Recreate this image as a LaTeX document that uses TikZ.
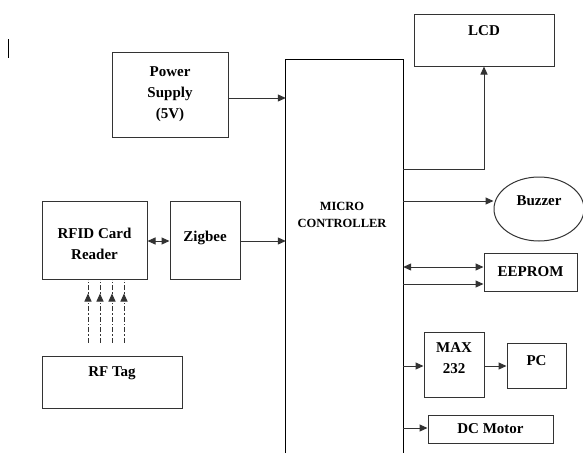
\documentclass[tikz,border=0pt]{standalone}
\usepackage{fontspec}
\setmainfont{Liberation Serif}
\usetikzlibrary{arrows.meta,shapes.geometric}
\begin{document}
\begin{tikzpicture}[x=1pt,y=-1pt,
  box/.style={draw=black!80,line width=1pt,inner sep=0pt,align=center,font=\bfseries\fontsize{15}{21}\selectfont},
  txt/.style={inner sep=0pt,align=center,font=\bfseries\fontsize{15}{21}\selectfont},
  conn/.style={line width=1pt,draw=black!80,-{Triangle[length=8pt,width=7pt]}},
  dconn/.style={line width=1pt,draw=black!80,{Triangle[length=8pt,width=7pt]}-{Triangle[length=8pt,width=7pt]}},
  rfarrow/.style={line width=1pt,draw=black!80,dash pattern=on 5pt off 2pt on 1.5pt off 2pt,-{Triangle[length=8pt,width=7pt]}}]
\useasboundingbox (0,0) rectangle (583,453);
\fill[white] (0,0) rectangle (583,453);
% cursor mark
\coordinate (c1) at (8,39);
\coordinate (c2) at (8,58);
\draw[line width=1pt] (c1) -- (c2);
% boxes
\node[box,minimum width=116pt,minimum height=85pt] (ps) at (170,94.5) {Power\\Supply\\(5V)};
\node[minimum width=117pt,minimum height=393pt,inner sep=0pt] (mc) at (344.5,256.5) {};
\draw[line width=1pt] (mc.south west) -- (mc.north west) -- (mc.north east) -- (mc.south east);
\node[txt,font=\bfseries\fontsize{12.5}{17}\selectfont] (mct) at (342,214.5) {MICRO\\CONTROLLER};
\node[box,minimum width=140pt,minimum height=52pt,label={[txt,yshift=9pt]center:LCD}] (lcd) at (484,40) {};
\node[box,ellipse,minimum width=90pt,minimum height=64pt,label={[txt,yshift=8pt]center:Buzzer}] (bz) at (539,209) {};
\node[box,minimum width=93pt,minimum height=38pt] (ee) at (530.5,272) {EEPROM};
\node[box,minimum width=60pt,minimum height=65pt,label={[txt,yshift=6pt]center:MAX\\232}] (max) at (454,364.5) {};
\node[box,minimum width=59pt,minimum height=45pt,label={[txt,yshift=5pt]center:PC}] (pc) at (536.5,365.5) {};
\node[box,minimum width=125pt,minimum height=28pt] (dc) at (490.5,429) {DC Motor};
\node[box,minimum width=105pt,minimum height=78pt,label={[txt,yshift=-4pt]center:RFID Card\\Reader}] (rfid) at (94.5,240) {};
\node[box,minimum width=70pt,minimum height=78pt,label={[txt,yshift=2pt]center:Zigbee}] (zb) at (205,240) {};
\node[box,minimum width=140pt,minimum height=52pt,label={[txt,yshift=9pt]center:RF Tag}] (rft) at (112,382) {};
% connectors
\draw[conn] (ps.east |- 0,98) -- (mc.west |- 0,98);
\draw[conn] (mc.east |- 0,169) -| (lcd.south);
\draw[conn] (mc.east |- 0,201) -- (bz.west |- 0,201);
\draw[dconn] (mc.east |- 0,267) -- (ee.west |- 0,267);
\draw[conn] (mc.east |- 0,284) -- (ee.west |- 0,284);
\draw[conn] (mc.east |- 0,366) -- (max.west |- 0,366);
\draw[conn] (max.east |- 0,366) -- (pc.west |- 0,366);
\draw[conn] (mc.east |- 0,428) -- (dc.west |- 0,428);
\draw[dconn] (rfid.east |- 0,241) -- (zb.west |- 0,241);
\draw[conn] (zb.east |- 0,241) -- (mc.west |- 0,241);
\foreach \x in {88,100,112,124}{
  \draw[rfarrow] (rft.north -| \x,0) ++(0,-13) coordinate (s) (s) -- (rfid.south -| \x,0) ++(0,14);
}
\end{tikzpicture}
\end{document}
